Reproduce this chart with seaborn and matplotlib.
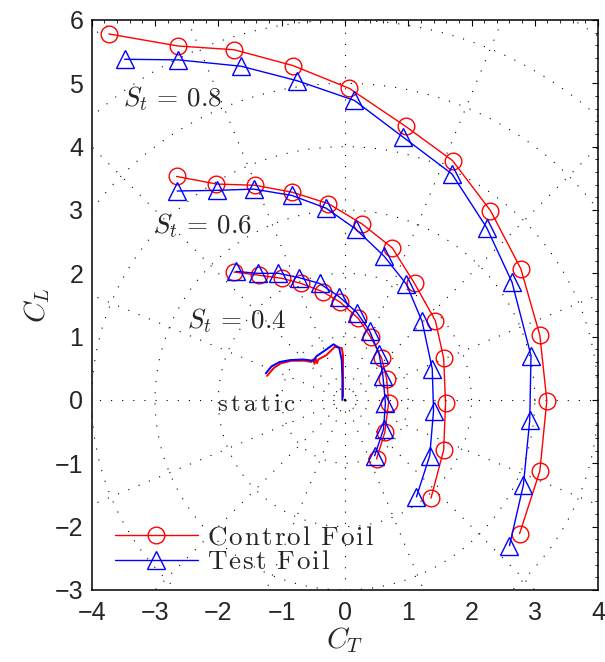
import numpy as np
import pandas as pd
import matplotlib
matplotlib.use("Agg")
import matplotlib.pyplot as plt
import seaborn as sns

# ---------------- data ----------------
ctrl_08_ct = [-3.73, -2.64, -1.75, -0.82, 0.07, 0.96, 1.70, 2.30, 2.78, 3.08, 3.19, 3.08, 2.76]
ctrl_08_cl = [5.78, 5.59, 5.53, 5.28, 4.92, 4.32, 3.78, 2.99, 2.07, 1.02, -0.01, -1.12, -2.11]
test_08_ct = [-3.48, -2.63, -1.64, -0.75, 0.15, 0.92, 1.69, 2.24, 2.64, 2.94, 2.92, 2.82, 2.60]
test_08_cl = [5.38, 5.37, 5.27, 5.04, 4.73, 4.15, 3.57, 2.72, 1.86, 0.70, -0.32, -1.34, -2.30]

ctrl_06_ct = [-2.66, -2.03, -1.42, -0.83, -0.26, 0.27, 0.75, 1.10, 1.43, 1.56, 1.59, 1.56, 1.36]
ctrl_06_cl = [3.53, 3.41, 3.39, 3.28, 3.10, 2.78, 2.40, 1.84, 1.25, 0.66, -0.05, -0.79, -1.55]
test_06_ct = [-2.65, -2.02, -1.44, -0.84, -0.30, 0.17, 0.62, 0.97, 1.22, 1.38, 1.40, 1.34, 1.13]
test_06_cl = [3.30, 3.31, 3.33, 3.23, 3.03, 2.70, 2.27, 1.83, 1.24, 0.49, -0.17, -0.88, -1.53]

ctrl_04_ct = [-1.75, -1.36, -0.99, -0.69, -0.35, -0.07, 0.21, 0.41, 0.58, 0.66, 0.69, 0.63, 0.50]
ctrl_04_cl = [2.02, 1.97, 1.92, 1.84, 1.71, 1.54, 1.29, 0.99, 0.66, 0.33, -0.05, -0.51, -0.93]
test_04_ct = [-1.72, -1.38, -1.05, -0.72, -0.40, -0.09, 0.19, 0.39, 0.54, 0.60, 0.64, 0.61, 0.47]
test_04_cl = [2.03, 2.00, 2.00, 1.93, 1.84, 1.63, 1.38, 1.09, 0.73, 0.38, -0.05, -0.46, -0.88]

static_test_ct = [-1.25, -1.16, -1.03, -0.87, -0.66, -0.50, -0.45, -0.29, -0.18, -0.09, -0.05, -0.04, -0.04]
static_test_cl = [0.42, 0.53, 0.60, 0.63, 0.64, 0.62, 0.69, 0.80, 0.88, 0.82, 0.63, 0.32, 0.00]
static_ctrl_ct = [-1.23, -1.13, -1.01, -0.84, -0.63, -0.53, -0.50, -0.48, -0.46, -0.44, -0.42,
                  -0.29, -0.16, -0.05, -0.03, -0.03, -0.03]
static_ctrl_cl = [0.38, 0.50, 0.58, 0.62, 0.62, 0.60, 0.64, 0.57, 0.65, 0.58, 0.64,
                  0.71, 0.84, 0.82, 0.71, 0.38, 0.05]

labels_st = [r"$S_t\,=\,0.8$", r"$S_t\,=\,0.6$", r"$S_t\,=\,0.4$"]
label_pos_ct = [-3.50, -3.03, -2.50]
label_pos_cl = [4.63, 2.63, 1.13]
legend_labels = ["Control Foil", "Test Foil"]
xticks = [-4, -3, -2, -1, 0, 1, 2, 3, 4]
yticks = [-3, -2, -1, 0, 1, 2, 3, 4, 5, 6]

RED = (1, 0, 0)
BLUE = (0, 0, 1)


def spaced_roman(s, gap=0.09):
    words = []
    for w in s.split(" "):
        words.append(("\\hspace{%.2f}" % gap).join(w))
    return r"$\mathrm{" + r"\ \hspace{0.1}".join(words) + "}$"


sns.set_theme(style="white")
plt.rcParams["font.family"] = ["Liberation Sans", "DejaVu Sans"]
plt.rcParams["mathtext.fontset"] = "cm"

fig = plt.figure(figsize=(6.05, 6.62), dpi=100)
ax = fig.add_axes([0.1516, 0.1088, 0.837, 0.861])
ax.set_xlim(-4, 4)
ax.set_ylim(-3, 6)

# ---------------- polar dotted grid ----------------
dot = (0, (1, 9))
th = np.linspace(0, 2 * np.pi, 720)
for r in range(1, 8):
    ax.plot(r * np.cos(th), r * np.sin(th), color="black", lw=0.8, ls=dot, zorder=0)
for k in range(16):
    a = np.deg2rad(22.5 * k)
    ax.plot([0, 8 * np.cos(a)], [0, 8 * np.sin(a)], color="black", lw=0.8, ls=dot, zorder=0)

# ---------------- static curves ----------------
sns.lineplot(x=static_ctrl_ct, y=static_ctrl_cl, sort=False, estimator=None, color=RED,
             lw=1.4, ax=ax, legend=False)
sns.lineplot(x=static_test_ct, y=static_test_cl, sort=False, estimator=None, color=BLUE,
             lw=1.4, ax=ax, legend=False)

# ---------------- foil curves ----------------
ctrl_sets = [(ctrl_08_ct, ctrl_08_cl), (ctrl_06_ct, ctrl_06_cl), (ctrl_04_ct, ctrl_04_cl)]
test_sets = [(test_08_ct, test_08_cl), (test_06_ct, test_06_cl), (test_04_ct, test_04_cl)]
for i, (cx, cy) in enumerate(ctrl_sets):
    sns.lineplot(x=cx, y=cy, sort=False, estimator=None, color=RED, lw=1.0,
                 marker="o", markersize=12, markerfacecolor="none", markeredgecolor=RED,
                 markeredgewidth=1.0, ax=ax, legend=False,
                 label=legend_labels[0] if i == 0 else None)
for i, (tx, ty) in enumerate(test_sets):
    sns.lineplot(x=tx, y=ty, sort=False, estimator=None, color=BLUE, lw=1.0,
                 marker="^", markersize=13, markerfacecolor="none", markeredgecolor=BLUE,
                 markeredgewidth=1.0, ax=ax, legend=False,
                 label=legend_labels[1] if i == 0 else None)

# ---------------- annotations ----------------
for lab, lx, ly in zip(labels_st, label_pos_ct, label_pos_cl):
    ax.text(lx, ly, lab, fontsize=19.5, ha="left", va="baseline")
ax.text(-2.02, -0.17, r"$\mathrm{s\,t\,a\,t\,i\,c}$", fontsize=18, ha="left", va="baseline")

# ---------------- axes styling ----------------
ax.set_xticks(xticks)
ax.set_yticks(yticks)
ax.set_xticklabels([str(v) if v >= 0 else "\u2212" + str(-v) for v in xticks], fontsize=18)
ax.set_yticklabels([str(v) if v >= 0 else "\u2212" + str(-v) for v in yticks], fontsize=18)
ax.xaxis.set_minor_locator(matplotlib.ticker.MultipleLocator(0.2))
ax.yaxis.set_minor_locator(matplotlib.ticker.MultipleLocator(0.2))
ax.tick_params(which="both", direction="in", top=True, right=True, color="black")
ax.tick_params(axis="x", which="major", pad=8)
ax.tick_params(axis="y", which="major", pad=6)
ax.tick_params(which="major", length=4.5, width=0.8)
ax.tick_params(which="minor", length=2.5, width=0.6)
for s in ax.spines.values():
    s.set_color("black")
    s.set_linewidth(1.1)
ax.set_xlabel(r"$C_T$", fontsize=21, labelpad=0)
ax.set_ylabel(r"$C_L$", fontsize=21, labelpad=2)
ax.grid(False)

h, l = ax.get_legend_handles_labels()
leg = ax.legend(h, [spaced_roman(t) for t in l],
                loc="lower left", bbox_to_anchor=(0.045, 0.026), frameon=False,
                fontsize=19.5, handlelength=3.1, handletextpad=0.3, labelspacing=-0.05,
                borderaxespad=0.0, borderpad=0.0)

fig.savefig("out.png", dpi=100)
